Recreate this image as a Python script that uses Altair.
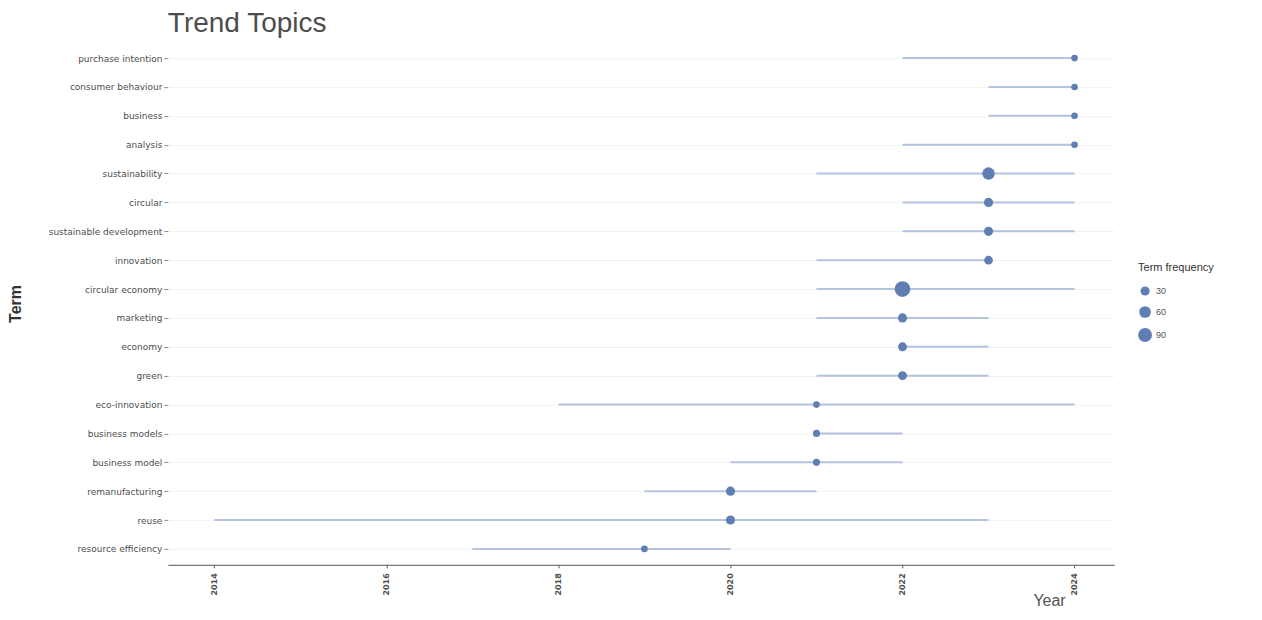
import altair as alt
import pandas as pd

terms = ["purchase intention", "consumer behaviour", "business", "analysis",
         "sustainability", "circular", "sustainable development", "innovation",
         "circular economy", "marketing", "economy", "green", "eco-innovation",
         "business models", "business model", "remanufacturing", "reuse",
         "resource efficiency"]
year_q1 = [2022, 2023, 2023, 2022, 2021, 2022, 2022, 2021, 2021, 2021, 2022, 2021,
           2018, 2021, 2020, 2019, 2014, 2017]
year_med = [2024, 2024, 2024, 2024, 2023, 2023, 2023, 2023, 2022, 2022, 2022, 2022,
            2021, 2021, 2021, 2020, 2020, 2019]
year_q3 = [2024, 2024, 2024, 2024, 2024, 2024, 2024, 2023, 2024, 2023, 2023, 2023,
           2024, 2022, 2022, 2021, 2023, 2020]
freq = [8, 8, 8, 8, 70, 30, 30, 25, 120, 30, 28, 28, 8, 12, 12, 30, 30, 8]
year_ticks = [2014, 2016, 2018, 2020, 2022, 2024]
legend_values = [30, 60, 90]

df = pd.DataFrame({"term": terms, "q1": year_q1, "med": year_med,
                   "q3": year_q3, "freq": freq})

FONT = "Liberation Sans"
LFONT = "DejaVu Sans"
ycol = alt.Y("term:N", sort=terms,
             scale=alt.Scale(type="point", padding=0.55),
             axis=alt.Axis(title="Term", titleFont=FONT, titleFontSize=16,
                           titleFontWeight="bold", titleColor="#333333",
                           titleX=-144, labelFont=LFONT, labelFontSize=9,
                           labelColor="#4d4d4d", labelFontWeight="normal",
                           labelPadding=2, tickSize=4, tickColor="#888888",
                           domain=False, grid=True, gridColor="#f2f2f2",
                           gridWidth=1))
xscale = alt.Scale(domain=[2013.46, 2024.46], nice=False, zero=False)
xaxis = alt.Axis(title="Year", values=year_ticks, format="d", labelAngle=270,
                 labelFont=LFONT, labelFontSize=8, labelFontWeight="bold",
                 labelColor="#4d4d4d", labelPadding=5, tickSize=3,
                 tickColor="#555555", domainColor="#555555", domainWidth=1,
                 grid=False, titleFont=FONT, titleFontSize=16,
                 titleFontWeight="normal", titleColor="#555555",
                 titleAnchor="start", titleX=898, titleAlign="right",
                 titleY=28, titleBaseline="top")

base = alt.Chart(df)
rules = base.mark_rule(color="#b4c3de", strokeWidth=2).encode(
    y=ycol,
    x=alt.X("q1:Q", scale=xscale, axis=xaxis),
    x2="q3:Q",
)
points = base.mark_circle(color="#5f7fb4", opacity=1).encode(
    y=alt.Y("term:N", sort=terms),
    x=alt.X("med:Q", scale=xscale),
    size=alt.Size("freq:Q",
                  scale=alt.Scale(domain=[0, 150], range=[30, 300]),
                  legend=alt.Legend(title="Term frequency", values=legend_values,
                                    orient="none", legendX=971, legendY=220,
                                    titleFont=FONT, titleFontSize=11,
                                    titleFontWeight="normal",
                                    titleColor="#333333", labelFont=FONT,
                                    labelFontSize=9, labelColor="#555555",
                                    symbolFillColor="#5f7fb4",
                                    symbolStrokeWidth=0, rowPadding=10,
                                    titlePadding=13)),
)

chart = (rules + points).properties(
    width=947, height=523,
    title=alt.TitleParams("Trend Topics", anchor="start", frame="group",
                          font=FONT, fontSize=28, fontWeight="normal",
                          color="#4d4d4d", offset=4),
    autosize=alt.AutoSizeParams(type="none"),
    padding={"left": 160, "top": 34, "right": 140, "bottom": 45},
    background="white",
).configure_view(stroke=None)

chart.save("out.html", embed_options={"renderer": "svg", "actions": False})
